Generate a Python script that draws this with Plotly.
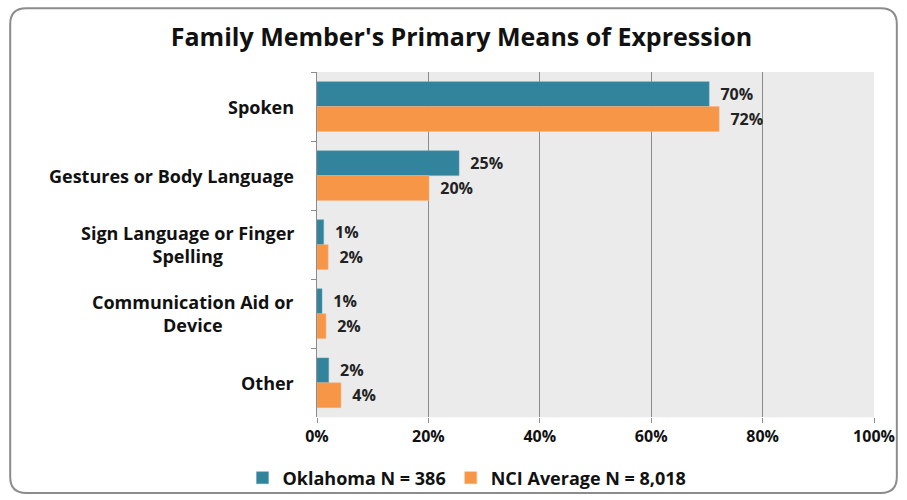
import plotly.graph_objects as go

categories = ["Spoken", "Gestures or Body Language", "Sign Language or Finger<br>Spelling",
              "Communication Aid or<br>Device", "Other"]
oklahoma = [70.4, 25.5, 1.2, 0.9, 2.1]
oklahoma_labels = ["70%", "25%", "1%", "1%", "2%"]
nci = [72.2, 20.1, 2.0, 1.6, 4.3]
nci_labels = ["72%", "20%", "2%", "2%", "4%"]
series_names = ["Oklahoma N = 386", "NCI Average N = 8,018"]
x_ticks = [0, 20, 40, 60, 80, 100]
x_tick_labels = ["0%", "20%", "40%", "60%", "80%", "100%"]

TEAL = "#31849B"
ORANGE = "#F79646"
FONT = "Open Sans"

W, H = 907, 500
ML, MR, MT, MB = 317, 29, 72, 81
PW, PH = W - ML - MR, H - MT - MB


def px(x):
    return (x - ML) / PW


def py(y):
    return 1 - (y - MT) / PH


def bold(s):
    return "<br>".join(f"<b>{p}</b>" for p in s.split("<br>"))


fig = go.Figure()
fig.add_trace(go.Bar(
    y=categories, x=oklahoma, name=bold(series_names[0]), orientation="h",
    marker=dict(color=TEAL, line=dict(color="#5BA3B8", width=0.5)),
    text=oklahoma_labels, texttemplate="\u00a0\u00a0<b>%{text}</b>",
    textposition="outside", cliponaxis=False,
    textfont=dict(family=FONT, size=16, color="#222222"),
))
fig.add_trace(go.Bar(
    y=categories, x=nci, name=bold(series_names[1]), orientation="h",
    marker=dict(color=ORANGE, line=dict(color="#F9B27E", width=0.5)),
    text=nci_labels, texttemplate="\u00a0\u00a0<b>%{text}</b>",
    textposition="outside", cliponaxis=False,
    textfont=dict(family=FONT, size=16, color="#222222"),
))

# category labels, centre-aligned like the original
for c in categories:
    fig.add_annotation(x=px(296), xref="paper", xanchor="right", y=c, yref="y",
                       yanchor="middle", text=bold(c), align="center", showarrow=False,
                       font=dict(family=FONT, size=18, color="#111111"))

# rounded outer frame
x0, y0, x1, y1, r = 8, 8, 901, 495, 16
path = (f"M {px(x0 + r)},{py(y0)} L {px(x1 - r)},{py(y0)} "
        f"Q {px(x1)},{py(y0)} {px(x1)},{py(y0 + r)} "
        f"L {px(x1)},{py(y1 - r)} Q {px(x1)},{py(y1)} {px(x1 - r)},{py(y1)} "
        f"L {px(x0 + r)},{py(y1)} Q {px(x0)},{py(y1)} {px(x0)},{py(y1 - r)} "
        f"L {px(x0)},{py(y0 + r)} Q {px(x0)},{py(y0)} {px(x0 + r)},{py(y0)} Z")

fig.update_layout(
    width=W, height=H,
    margin=dict(l=ML, r=MR, t=MT, b=MB),
    paper_bgcolor="white", plot_bgcolor="#EBEBEB",
    barmode="group", bargap=0.28, bargroupgap=0,
    font=dict(family=FONT, color="#111111"),
    title=dict(text="<b>Family Member's Primary Means of Expression</b>",
               x=461.5 / W, xref="container", xanchor="center", y=1 - 37 / H, yanchor="middle",
               font=dict(family=FONT, size=25, color="#111111")),
    xaxis=dict(range=[0, 100], tickvals=x_ticks, ticktext=[bold(t) for t in x_tick_labels],
               showgrid=True, gridcolor="#8C8C8C", gridwidth=1,
               zeroline=False, showline=False,
               ticks="outside", ticklen=5, tickcolor="#8C8C8C",
               tickfont=dict(family=FONT, size=16, color="#111111")),
    yaxis=dict(autorange="reversed", showline=True, linecolor="#8C8C8C", linewidth=1,
               ticks="outside", tickson="boundaries", ticklen=5, tickcolor="#8C8C8C",
               showticklabels=False),
    legend=dict(orientation="h", x=467 / W, xanchor="center", xref="container",
                y=22 / H, yref="container", yanchor="middle",
                bgcolor="rgba(0,0,0,0)",
                font=dict(family=FONT, size=18, color="#111111"),
                traceorder="normal", itemwidth=30),
    showlegend=True,
    shapes=[dict(type="path", path=path, xref="paper", yref="paper",
                 line=dict(color="#8C8C8C", width=2), fillcolor="rgba(0,0,0,0)",
                 layer="below")],
)

fig.write_html("out.html", config={"displayModeBar": False},
               post_script="document.body.style.margin='0px';")
